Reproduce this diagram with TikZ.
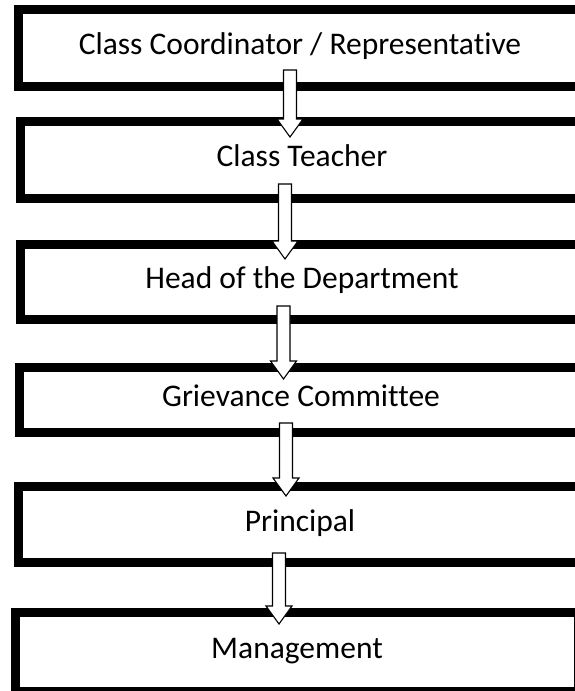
\documentclass[tikz,border=0pt]{standalone}
\usepackage{fontspec}
\setmainfont{Carlito}[Ligatures=NoCommon]
\usetikzlibrary{calc}

\begin{document}
\begin{tikzpicture}[x=1pt, y=-1pt,
    level/.style={rectangle, draw, line width=8.5pt, outer sep=0pt, inner sep=0pt,
      minimum width=563pt, text height=20pt, text depth=7pt,
      font=\fontsize{31.5}{36}\selectfont},
    flowarrow/.style={draw, fill=white, line width=1.1pt, line join=miter,
      to path={let \p1=(\tikztostart), \p2=(\tikztotarget) in
        (\x1-6.5pt,\y1) -- (\x1+6.5pt,\y1) -- (\x1+6.5pt,\y2+18pt) -- (\x1+13pt,\y2+18pt)
        -- (\x1,\y2) -- (\x1-13pt,\y2+18pt) -- (\x1-6.5pt,\y2+18pt) -- cycle}}]
				\useasboundingbox (0,0) rectangle (575,691);
				% Nodes
				\node (coord) [level, minimum height=77pt] at (300,48) {Class Coordinator / Representative};
				\node (teacher) [level, minimum height=77pt] at (302,160) {Class Teacher};
				\node (hod) [level, minimum height=75pt] at (302,282) {Head of the Department};
				\node (grievance) [level, minimum height=65pt] at (301,400) {Grievance Committee};
				\node (principal) [level, minimum height=76pt] at (300,524.5) {Principal};
				\node (management) [level, minimum height=79pt] at (297,652) {Management};
				
				% Arrows
				\draw[flowarrow] ([xshift=-10pt, yshift=16.5pt]coord.south) to ([yshift=-15.5pt]teacher.north);
				\draw[flowarrow] ([xshift=-17pt, yshift=14.5pt]teacher.south) to ([yshift=-14.5pt]hod.north);
				\draw[flowarrow] ([xshift=-18.5pt, yshift=13.5pt]hod.south) to ([yshift=-11.5pt]grievance.north);
				\draw[flowarrow] ([xshift=-15pt, yshift=9.5pt]grievance.south) to ([yshift=-9.5pt]principal.north);
				\draw[flowarrow] ([xshift=-21pt, yshift=9.5pt]principal.south) to ([yshift=-11.5pt]management.north);
			\end{tikzpicture}
\end{document}
